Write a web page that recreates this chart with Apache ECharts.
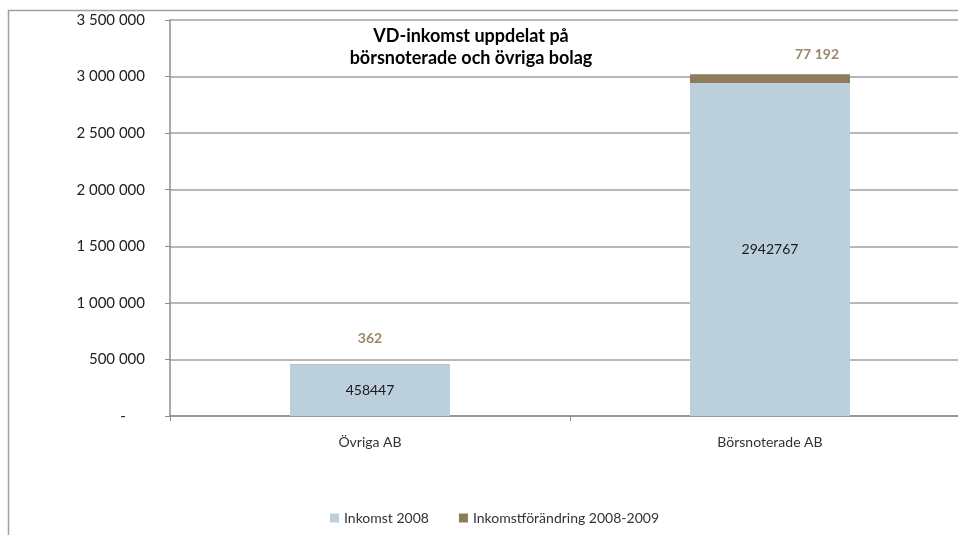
<!DOCTYPE html>
<html>
<head>
<meta charset="utf-8">
<script src="https://cdn.jsdelivr.net/npm/echarts@6/dist/echarts.min.js"></script>
<style>
html,body{margin:0;padding:0;background:#fff;}
#chart{width:958px;height:535px;}
</style>
</head>
<body>
<div id="chart"></div>
<script>
var categories = ['Övriga AB', 'Börsnoterade AB'];
var seriesNames = ['Inkomst 2008', 'Inkomstförändring 2008-2009'];
var inkomst2008 = [458447, 2942767];
var forandring = [362, 77192];
var yTicks = [0, 500000, 1000000, 1500000, 2000000, 2500000, 3000000, 3500000];

function spaced(v) {
  return String(Math.round(v)).replace(/\B(?=(\d{3})+(?!\d))/g, ' ');
}

var FONT = 'Lato, "Noto Sans", sans-serif';
var topLabelOffsets = [[0, -6], [47, 0]];

var chart = echarts.init(document.getElementById('chart'));
chart.setOption({
  animation: false,
  textStyle: { fontFamily: FONT },
  graphic: [{
    type: 'rect',
    shape: { x: 8.5, y: 10.5, width: 1000, height: 600 },
    style: { fill: 'none', stroke: '#a0a0a0', lineWidth: 1.5 },
    z: -1, silent: true
  }, {
    type: 'text',
    x: 471, y: 25,
    style: {
      text: 'VD-inkomst uppdelat på\nbörsnoterade och övriga bolag',
      x: 0, y: 0,
      align: 'center',
      textAlign: 'center',
      verticalAlign: 'top',
      fontFamily: FONT, fontWeight: 'bold', fontSize: 18, lineHeight: 22,
      fill: '#000'
    }
  }],
  grid: { left: 170, top: 20, right: -12, bottom: 119, containLabel: false, outerBoundsMode: 'none' },
  legend: {
    bottom: 5, left: 325,
    itemWidth: 9, itemHeight: 9, itemGap: 30,
    icon: 'rect',
    textStyle: { fontFamily: FONT, fontSize: 14, color: '#333' },
    data: seriesNames
  },
  xAxis: {
    type: 'category',
    data: categories,
    axisLine: { lineStyle: { color: '#8c8c8c', width: 1.5 } },
    axisTick: { show: true, length: 5, lineStyle: { color: '#8c8c8c' } },
    axisLabel: { margin: 19, fontFamily: FONT, fontSize: 14, color: '#333' }
  },
  yAxis: {
    type: 'value',
    min: 0, max: 3500000, interval: 500000,
    axisLine: { show: true, lineStyle: { color: '#8c8c8c', width: 1.5 } },
    axisTick: { show: true, length: 5, lineStyle: { color: '#8c8c8c' } },
    splitLine: { show: true, lineStyle: { color: '#a0a0a0', width: 1.5 } },
    axisLabel: {
      margin: 25, fontFamily: FONT, fontSize: 15, color: '#222',
      formatter: function (v) { return v === 0 ? '-     ' : spaced(v); }
    }
  },
  series: [{
    name: seriesNames[0],
    type: 'bar', stack: 'a', barWidth: '40%',
    itemStyle: { color: '#bccfdd' },
    label: { show: true, position: 'inside', color: '#1a1a1a', fontFamily: FONT, fontSize: 14,
             formatter: function (p) { return String(p.value); } },
    data: inkomst2008
  }, {
    name: seriesNames[1],
    type: 'bar', stack: 'a', barWidth: '40%',
    itemStyle: { color: '#8e7d5c' },
    data: forandring.map(function (v, i) {
      return { value: v, label: { offset: topLabelOffsets[i] } };
    }),
    label: { show: true, position: 'top', distance: 13, color: '#9a8866', fontWeight: 'bold',
             fontFamily: FONT, fontSize: 14,
             formatter: function (p) { return spaced(p.value); } }
  }]
});
</script>
</body>
</html>
